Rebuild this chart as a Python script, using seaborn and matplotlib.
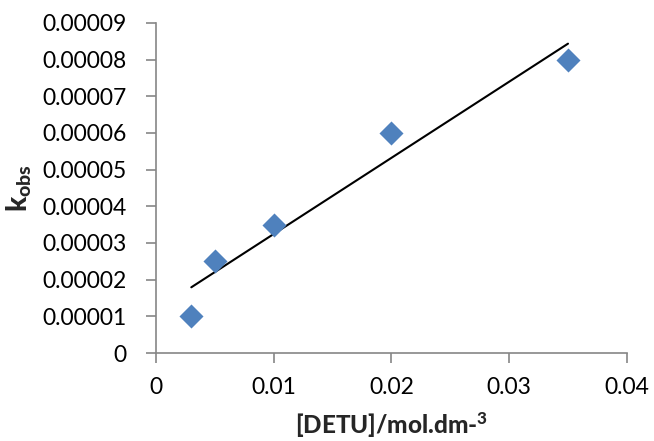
import numpy as np
import pandas as pd
import matplotlib
matplotlib.use("Agg")
import matplotlib.pyplot as plt
import seaborn as sns

# Data
detu = [0.003, 0.005, 0.01, 0.02, 0.035]
kobs = [0.00001, 0.000025, 0.000035, 0.00006, 0.00008]
x_ticks = [0, 0.01, 0.02, 0.03, 0.04]
x_tick_labels = ["0", "0.01", "0.02", "0.03", "0.04"]
y_ticks = [0, 0.00001, 0.00002, 0.00003, 0.00004, 0.00005, 0.00006, 0.00007, 0.00008, 0.00009]
y_tick_labels = ["0", "0.00001", "0.00002", "0.00003", "0.00004", "0.00005",
                 "0.00006", "0.00007", "0.00008", "0.00009"]

df = pd.DataFrame({"x": detu, "y": kobs})

sns.set_style("white")
plt.rcParams["font.family"] = ["Lato", "DejaVu Sans"]
plt.rcParams["mathtext.fontset"] = "custom"
plt.rcParams["mathtext.rm"] = "Lato"
plt.rcParams["mathtext.bf"] = "Lato:black"
plt.rcParams["mathtext.it"] = "Lato:italic"

fig = plt.figure(figsize=(6.54, 4.41), dpi=100)
ax = fig.add_axes([0.2385, 0.1995, 0.72, 0.7485])

# trendline (least squares)
slope, intercept = np.polyfit(df["x"], df["y"], 1)
xl = np.array([min(detu), max(detu)])
ax.plot(xl, slope * xl + intercept, color="black", lw=1.5, zorder=2)

sns.scatterplot(data=df, x="x", y="y", marker="D", s=150, color="#4F81BD",
                edgecolor="#4F81BD", linewidth=0, ax=ax, zorder=3)

ax.set_xlim(0, 0.04)
ax.set_ylim(0, 0.00009)
ax.set_xticks(x_ticks)
ax.set_xticklabels(x_tick_labels)
ax.set_yticks(y_ticks)
ax.set_yticklabels(y_tick_labels)

for s in ["top", "right"]:
    ax.spines[s].set_visible(False)
for s in ["left", "bottom"]:
    ax.spines[s].set_color("#868686")
    ax.spines[s].set_linewidth(1.2)

ax.tick_params(axis="both", which="both", direction="out", length=7, width=1.2,
               color="#868686", labelsize=16.5, labelcolor="black",
               left=True, bottom=True)
ax.tick_params(axis="y", pad=14)
ax.tick_params(axis="x", pad=10)

ax.set_xlabel(r"[DETU]/mol.dm-$^{\mathbf{3}}$", fontsize=17.5, fontweight="black", labelpad=9)
ax.set_ylabel(r"$\mathbf{k}_{\mathbf{obs}}$", fontsize=20, labelpad=6)

fig.savefig("out.png", dpi=100)
